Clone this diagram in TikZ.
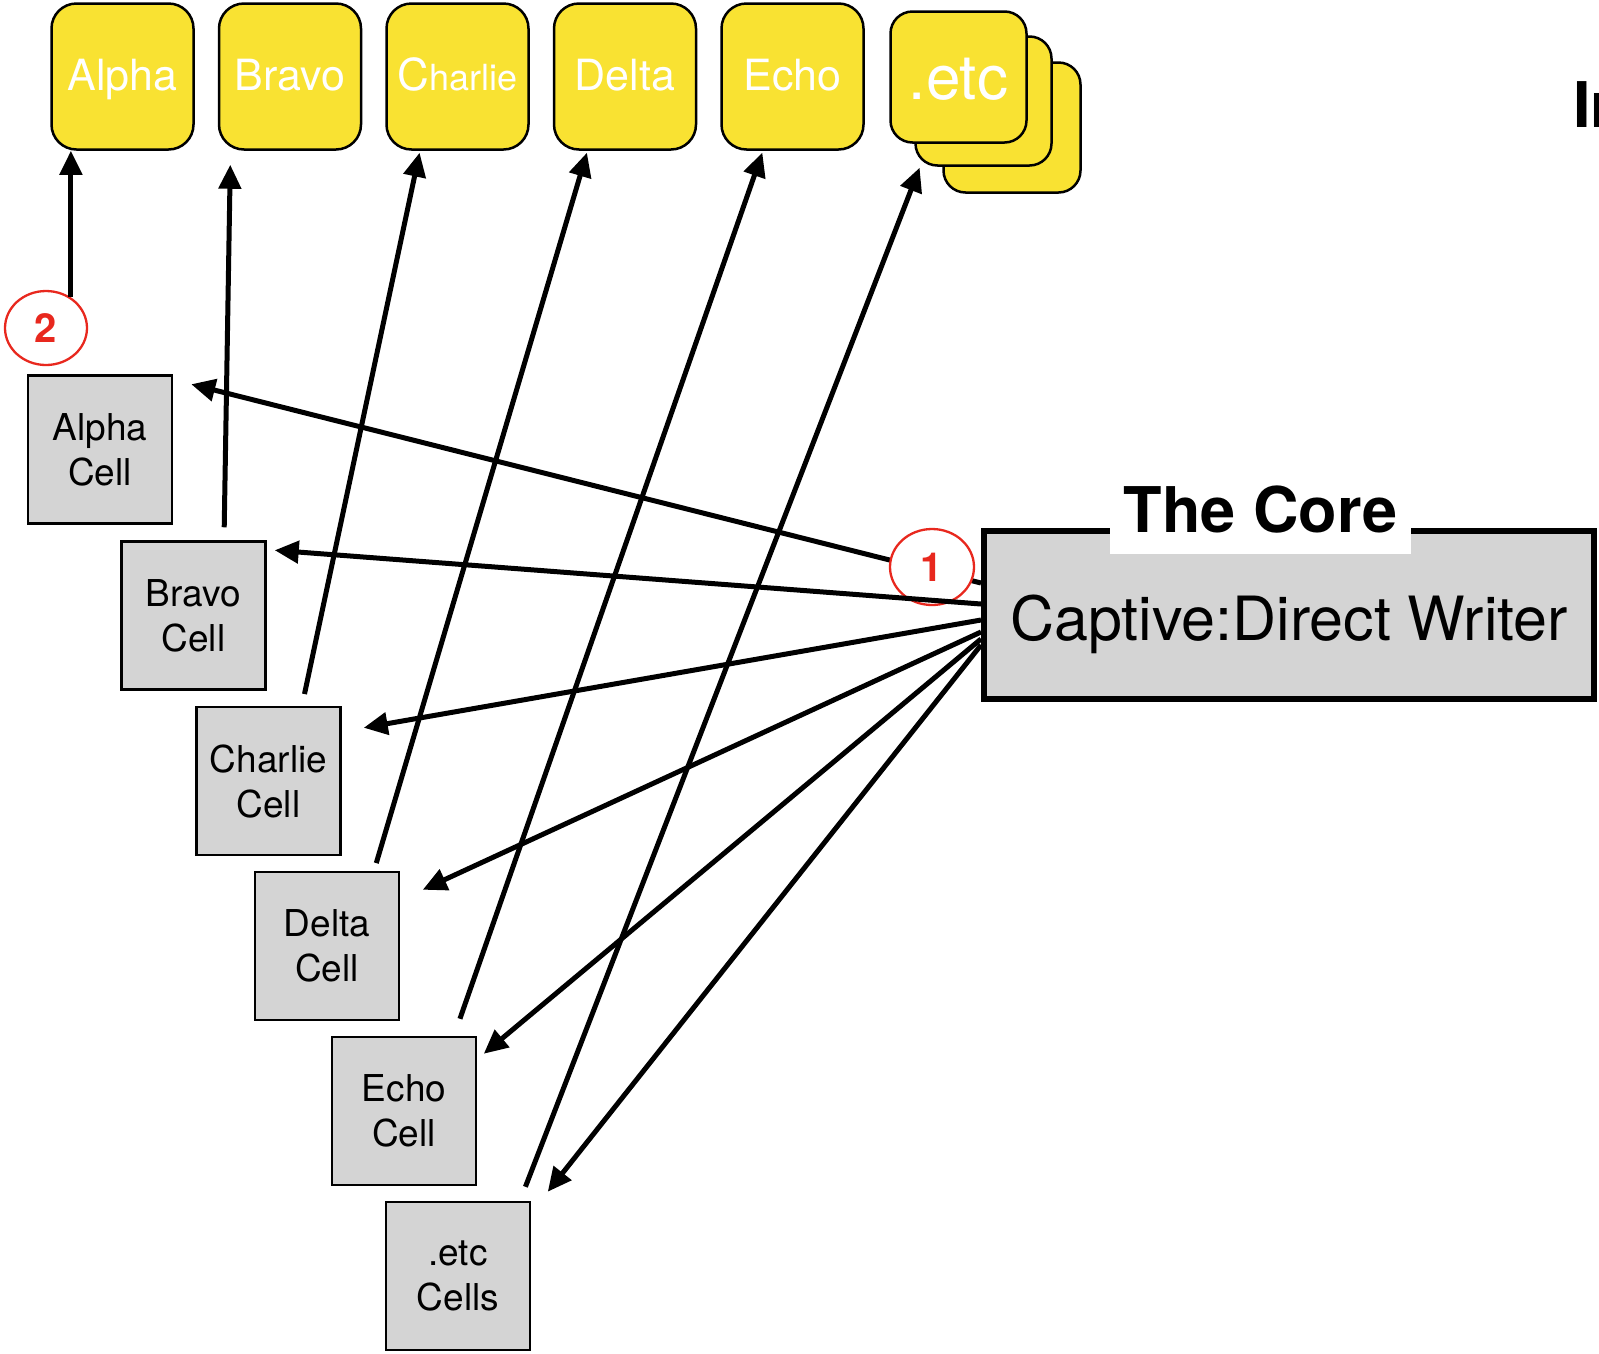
\documentclass[tikz,border=0pt]{standalone}
\usepackage{fontspec}
\setmainfont{TeX Gyre Heros}
\usetikzlibrary{positioning, arrows.meta, calc, shapes.geometric}
\definecolor{cardyellow}{RGB}{249,226,50}
\definecolor{cellgrey}{RGB}{212,212,212}
\definecolor{ringred}{RGB}{232,40,30}
\newcommand{\fsz}[2]{\fontsize{#1}{#2}\selectfont}

\begin{document}
\begin{tikzpicture}[x=1pt,y=-1pt,>={Triangle[length=24pt,width=22pt]},node distance=23pt,
  ybox/.style={draw,line width=2.5pt,rounded corners=25pt,fill=cardyellow,text=white,minimum width=142pt,minimum height=146pt,text height=36pt,text depth=9pt,font=\fsz{43}{52}},
  cellbox/.style={draw,line width=2.5pt,fill=cellgrey,minimum width=144pt,minimum height=148pt,align=center,font=\fsz{37}{45}},
  redring/.style={draw=ringred,line width=2.3pt,text=ringred,fill=white,inner sep=0pt,font=\bfseries\fsz{40}{48}},
  link/.style={->,line width=5pt}]
  \useasboundingbox (0,0) rectangle (1599,1353);

  \node[ybox](yA) at (122.5,76.5){Alpha};
  \node[ybox,right=of yA](yB){Bravo};
  \node[ybox,right=of yB](yC){{\fsz{44}{52}C}{\fsz{36}{44}harlie}};
  \node[ybox,right=of yC](yD){Delta};
  \node[ybox,right=of yD](yE){Echo};
  \node[ybox,rounded corners=22pt,minimum width=137pt,minimum height=130pt](yX3) at (1012,127.5){};
  \node[ybox,rounded corners=22pt,minimum width=136pt,minimum height=129pt](yX2) at (983.5,101){};
  \node[ybox,rounded corners=22pt,minimum width=136pt,minimum height=131pt,text height=45pt,text depth=0pt,font=\fsz{62}{70}](yX) at (958.5,77){.etc};

  \node[cellbox](cA) at (100,449.5){Alpha\\Cell};
  \node[cellbox](cB) at (193.5,615.5){Bravo\\Cell};
  \node[cellbox](cC) at (268.5,781){Charlie\\Cell};
  \node[cellbox](cD) at (327,946){Delta\\Cell};
  \node[cellbox](cE) at (404,1111){Echo\\Cell};
  \node[cellbox](cX) at (458,1276){.etc\\Cells};

  \node[draw,line width=6pt,fill=cellgrey,minimum width=610pt,minimum height=168pt,text height=63pt,text depth=13pt,font=\fsz{61}{70}](core) at (1289,615){Captive:Direct Writer};
  \node[fill=white,minimum width=301pt,minimum height=88pt,font=\bfseries\fsz{63}{72}](coretitle) at (1260.5,510){The Core};
  \node[anchor=base west,inner sep=0pt,font=\bfseries\fsz{63}{72}](intext) at (1573,127){In};

  \node[redring,ellipse,minimum width=82pt,minimum height=74pt](r2) at (46,328){2};
  \draw[link](r2.51)--(r2.51 |- yA.south);
  \draw[link,shorten <=13pt,shorten >=14pt]([xshift=30.5pt]cB.north)--([xshift=-59.5pt]yB.south);
  \draw[link,shorten <=12pt,shorten >=2pt]([xshift=33.5pt]cC.north)--([xshift=-37.5pt]yC.south);
  \draw[link,shorten <=8pt,shorten >=2pt]([xshift=47pt]cD.north)--([xshift=-37.5pt]yD.south);
  \draw[link,shorten <=18pt,shorten >=2pt]([xshift=50pt]cE.north)--([xshift=-29.5pt]yE.south);
  \draw[link,shorten <=15pt,shorten >=1pt]([xshift=62pt]cX.north)--([xshift=-63.5pt]yX2.south);

  \draw[link]($(core.west)+(0,-32)$)--($(cA.north east)+(18,10)$);
  \node[redring,ellipse,minimum width=84pt,minimum height=76pt](r1) at (932,567){1};
  \draw[link]($(core.west)+(0,-11)$)--($(cB.north east)+(8,10)$);
  \draw[link]($(core.west)+(0,5)$)--($(cC.north east)+(22,22)$);
  \draw[link]($(core.west)+(0,17)$)--($(cD.north east)+(22.5,19)$);
  \draw[link]($(core.west)+(0,24)$)--($(cE.north east)+(6.5,18)$);
  \draw[link]($(core.west)+(0,30)$)--($(cX.north east)+(16.5,-9)$);
\end{tikzpicture}
\end{document}
